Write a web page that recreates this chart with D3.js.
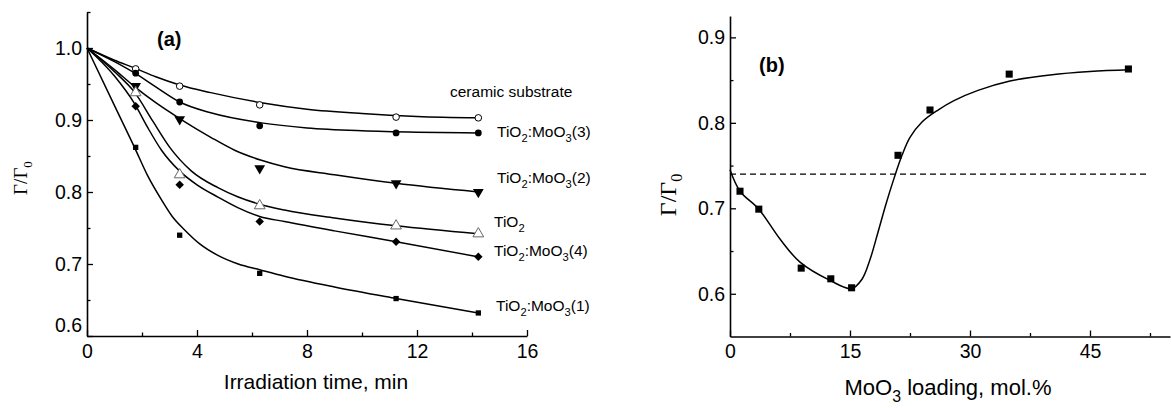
<!DOCTYPE html>
<html><head><meta charset="utf-8">
<script src="https://cdn.jsdelivr.net/npm/d3@7"></script>
<style>
html,body{margin:0;padding:0;background:#fff;}
text{font-family:"Liberation Sans",Arial,sans-serif;fill:#000;}
</style></head>
<body><svg id="c" width="1171" height="408"></svg>
<script>
// ---------- Panel (a) data ----------
const timeA = [0, 1.77, 3.37, 6.28, 11.24, 14.23];
const ceramicPts = [1.0, 0.971, 0.947, 0.921, 0.904, 0.903];
const moo3_3Pts  = [1.0, 0.965, 0.925, 0.892, 0.882, 0.882];
const moo3_2Pts  = [1.0, 0.947, 0.901, 0.833, 0.812, 0.800];
const tio2Pts    = [1.0, 0.938, 0.824, 0.781, 0.753, 0.742];
const moo3_4Pts  = [1.0, 0.919, 0.810, 0.759, 0.731, 0.710];
const moo3_1Pts  = [1.0, 0.862, 0.740, 0.687, 0.652, 0.632];

// fitted curves
const ceramicFitT = [0, 1, 1.74, 2.5, 3.37, 4.5, 6.34, 8, 10, 12, 14.23];
const ceramicFitV = [1.0, 0.983, 0.972, 0.960, 0.9486, 0.938, 0.924, 0.915, 0.909, 0.905, 0.903];
const moo3_3FitT = [0, 1, 1.74, 2.5, 3.37, 4.5, 6.34, 8, 10, 12, 14.23];
const moo3_3FitV = [1.0, 0.981, 0.965, 0.946, 0.925, 0.910, 0.896, 0.889, 0.885, 0.883, 0.882];
const moo3_2FitT = [0, 1, 1.74, 2.5, 3.37, 4.5, 5.37, 6.34, 7.18, 9, 11.24, 14.23];
const moo3_2FitV = [1.0, 0.970, 0.946, 0.924, 0.902, 0.876, 0.858, 0.844, 0.835, 0.824, 0.812, 0.800];
const tio2FitT = [0, 1, 1.74, 2.4, 3.01, 3.8, 4.76, 5.5, 6.28, 7.18, 9, 11.24, 14.23];
const tio2FitV = [1.0, 0.967, 0.938, 0.898, 0.862, 0.829, 0.806, 0.793, 0.783, 0.775, 0.764, 0.753, 0.742];
const moo3_4FitT = [0, 1, 1.74, 2.2, 2.71, 3.37, 4, 4.76, 5.5, 6.28, 7.18, 9, 11.24, 14.23];
const moo3_4FitV = [1.0, 0.961, 0.922, 0.890, 0.858, 0.829, 0.810, 0.793, 0.778, 0.766, 0.759, 0.746, 0.731, 0.710];
const moo3_1FitT = [0, 1, 1.74, 2.2, 2.71, 3.1, 3.56, 4.1, 4.76, 5.5, 6.28, 7.18, 9, 11.24, 14.23];
const moo3_1FitV = [1.0, 0.92, 0.861, 0.823, 0.789, 0.766, 0.747, 0.728, 0.712, 0.700, 0.692, 0.683, 0.668, 0.652, 0.632];

const xTicksA = [0, 4, 8, 12, 16];
const xMinorA = [2, 6, 10, 14];
const yTicksA = [0.6, 0.7, 0.8, 0.9, 1.0];
const yMinorA = [0.65, 0.75, 0.85, 0.95, 1.05];

// ---------- Panel (b) data ----------
const loadingB = [1.25, 3.6, 8.9, 12.6, 15.2, 21, 25, 34.9, 49.8];
const ratioB   = [0.720, 0.699, 0.630, 0.6175, 0.607, 0.762, 0.815, 0.857, 0.863];
const fitLoadB = [0, 1.25, 3.6, 6.25, 8.75, 12.5, 15.2, 16.5, 17.5, 18.5, 19.5, 20.5, 21.5, 22.5, 24, 26, 28, 31, 35, 40, 45, 50];
const fitRatioB = [0.745, 0.72, 0.699, 0.664, 0.637, 0.6156, 0.606, 0.617, 0.640, 0.672, 0.705, 0.735, 0.762, 0.783, 0.801, 0.815, 0.826, 0.838, 0.849, 0.856, 0.860, 0.862];
const refLevelB = 0.74;
const refSpanB = [0, 52.5];
const xTicksB = [0, 15, 30, 45];
const xMinorB = [7.5, 22.5, 37.5, 52.5];
const yTicksB = [0.6, 0.7, 0.8, 0.9];
const yMinorB = [0.65, 0.75, 0.85];

const svg = d3.select("#c");

// ---------- helpers ----------
function drawAxes(g, x, y, xt, xm, yt, ym, xfmt, yfmt, tickFont) {
  const xa = g.append("g").attr("transform", `translate(0,${y.range()[0]})`)
    .call(d3.axisBottom(x).tickValues(xt).tickSizeInner(-6).tickSizeOuter(0).tickPadding(8).tickFormat(xfmt));
  g.append("g").attr("transform", `translate(0,${y.range()[0]})`)
    .call(d3.axisBottom(x).tickValues(xm).tickSizeInner(-3.5).tickSizeOuter(0).tickFormat(""))
    .call(s => { s.select(".domain").remove(); s.selectAll("text").remove(); });
  const ya = g.append("g").attr("transform", `translate(${x.range()[0]},0)`)
    .call(d3.axisLeft(y).tickValues(yt).tickSizeInner(-6).tickSizeOuter(0).tickPadding(5).tickFormat(yfmt));
  g.append("g").attr("transform", `translate(${x.range()[0]},0)`)
    .call(d3.axisLeft(y).tickValues(ym).tickSizeInner(-3.5).tickSizeOuter(0).tickFormat(""))
    .call(s => { s.select(".domain").remove(); s.selectAll("text").remove(); });
  g.selectAll(".domain").attr("stroke", "#000").attr("stroke-width", 1.6);
  g.selectAll(".tick line").attr("stroke", "#000").attr("stroke-width", 1.3);
  g.selectAll(".tick text").style("font-size", tickFont + "px").style("font-family", "Liberation Sans, Arial, sans-serif").attr("fill", "#000");
  return {xa, ya};
}

function subLabel(g, x, y, parts, size, anchor) {
  const t = g.append("text").attr("x", x).attr("y", y).style("font-size", size + "px")
    .attr("text-anchor", anchor || "start");
  let shift = 0;
  parts.forEach(p => {
    const ts = t.append("tspan");
    if (p.sub) {
      ts.attr("dy", size * 0.3 - shift).style("font-size", (size * 0.72) + "px").text(p.t);
      shift = size * 0.3;
    } else {
      if (shift) ts.attr("dy", -shift);
      shift = 0;
      ts.text(p.t);
    }
  });
  return t;
}

// ---------- Panel (a) ----------
const gA = svg.append("g");
const xA = d3.scaleLinear().domain([0, 16]).range([87, 527]);
const yA = d3.scaleLinear().domain([0.6, 1.05]).range([336, 12]);
const axA = drawAxes(gA, xA, yA, xTicksA, xMinorA, yTicksA, yMinorA, d3.format("d"), d3.format(".1f"), 19.5);
axA.ya.selectAll(".tick").filter(d => d === 0.6).select("text").attr("dy", "-0.25em");

const lineA = d3.line().x(d => xA(d[0])).y(d => yA(d[1])).curve(d3.curveMonotoneX);
const fitsA = [
  [ceramicFitT, ceramicFitV], [moo3_3FitT, moo3_3FitV], [moo3_2FitT, moo3_2FitV],
  [tio2FitT, tio2FitV], [moo3_4FitT, moo3_4FitV], [moo3_1FitT, moo3_1FitV]
];
fitsA.forEach(([t, v]) => {
  gA.append("path").datum(t.map((d, i) => [d, v[i]])).attr("d", lineA)
    .attr("fill", "none").attr("stroke", "#000").attr("stroke-width", 1.5);
});

const sym = {
  openCircle: d3.symbol().type(d3.symbolCircle).size(34),
  circle: d3.symbol().type(d3.symbolCircle).size(36),
  triDown: d3.symbol().type(d3.symbolTriangle).size(50),
  triUp: d3.symbol().type(d3.symbolTriangle).size(50),
  diamond: d3.symbol().type(d3.symbolSquare).size(36),
  square: d3.symbol().type(d3.symbolSquare).size(28)
};
const seriesA = [
  {v: ceramicPts, s: "openCircle"}, {v: moo3_3Pts, s: "circle"}, {v: moo3_2Pts, s: "triDown"},
  {v: tio2Pts, s: "triUp"}, {v: moo3_4Pts, s: "diamond"}, {v: moo3_1Pts, s: "square"}
];
seriesA.forEach(sr => {
  timeA.forEach((t, i) => {
    if (i === 0) return;
    const p = gA.append("path").attr("d", sym[sr.s]());
    let tr = `translate(${xA(t)},${yA(sr.v[i])})`;
    if (sr.s === "triDown") tr += " rotate(180)";
    if (sr.s === "diamond") tr += " rotate(45)";
    p.attr("transform", tr);
    if (sr.s === "openCircle") p.attr("fill", "#fff").attr("stroke", "#000").attr("stroke-width", 1);
    else if (sr.s === "triUp") p.attr("fill", "#fff").attr("stroke", "#666").attr("stroke-width", 1);
    else p.attr("fill", "#000");
  });
});

// series labels
const fsL = 15.5;
subLabel(gA, 450, 97, [{t: "ceramic substrate"}], fsL);
subLabel(gA, 497, 137, [{t: "TiO"}, {t: "2", sub: 1}, {t: ":MoO"}, {t: "3", sub: 1}, {t: "(3)"}], fsL);
subLabel(gA, 497, 183, [{t: "TiO"}, {t: "2", sub: 1}, {t: ":MoO"}, {t: "3", sub: 1}, {t: "(2)"}], fsL);
subLabel(gA, 494, 227, [{t: "TiO"}, {t: "2", sub: 1}], fsL);
subLabel(gA, 494, 256, [{t: "TiO"}, {t: "2", sub: 1}, {t: ":MoO"}, {t: "3", sub: 1}, {t: "(4)"}], fsL);
subLabel(gA, 496, 311, [{t: "TiO"}, {t: "2", sub: 1}, {t: ":MoO"}, {t: "3", sub: 1}, {t: "(1)"}], fsL);

gA.append("text").attr("x", 157).attr("y", 46).style("font-size", "20px").style("font-weight", "bold").text("(a)");
gA.append("text").attr("x", 316).attr("y", 389).attr("text-anchor", "middle").style("font-size", "21px").text("Irradiation time, min");
const ylA = gA.append("text").attr("transform", "translate(27,178) rotate(-90)").attr("text-anchor", "middle")
  .style("font-family", "Liberation Serif, Times New Roman, serif").style("font-size", "19px");
ylA.append("tspan").style("font-family", "Liberation Serif, serif").text("\u0393/\u0393");
ylA.append("tspan").attr("dy", 5).style("font-size", "13px").style("font-family", "Liberation Serif, serif").text("0");

// ---------- Panel (b) ----------
const gB = svg.append("g");
const xB = d3.scaleLinear().domain([0, 55]).range([730, 1170]);
const yB = d3.scaleLinear().domain([0.55, 0.925]).range([336.5, 16]);
drawAxes(gB, xB, yB, xTicksB, xMinorB, yTicksB, yMinorB, d3.format("d"), d3.format(".1f"), 19.5);

gB.append("line").attr("x1", xB(refSpanB[0])).attr("x2", xB(refSpanB[1]))
  .attr("y1", yB(refLevelB)).attr("y2", yB(refLevelB))
  .attr("stroke", "#000").attr("stroke-width", 1.3).attr("stroke-dasharray", "6,4");

const lineB = d3.line().x(d => xB(d[0])).y(d => yB(d[1])).curve(d3.curveCatmullRom.alpha(0.5));
gB.append("path").datum(fitLoadB.map((d, i) => [d, fitRatioB[i]])).attr("d", lineB)
  .attr("fill", "none").attr("stroke", "#000").attr("stroke-width", 1.5);

const sqB = d3.symbol().type(d3.symbolSquare).size(50);
loadingB.forEach((l, i) => {
  gB.append("path").attr("d", sqB()).attr("transform", `translate(${xB(l)},${yB(ratioB[i])})`).attr("fill", "#000");
});

gB.append("text").attr("x", 759).attr("y", 72).style("font-size", "20px").style("font-weight", "bold").text("(b)");
subLabel(gB, 948, 395, [{t: "MoO"}, {t: "3", sub: 1}, {t: " loading, mol.%"}], 22, "middle");
const ylB = gB.append("text").attr("transform", "translate(676,195) rotate(-90)").attr("text-anchor", "middle")
  .style("font-family", "Liberation Serif, Times New Roman, serif").style("font-size", "24px");
ylB.append("tspan").text("\u0393/\u0393");
ylB.append("tspan").attr("dy", 6).style("font-size", "16px").text("0");
</script></body></html>
